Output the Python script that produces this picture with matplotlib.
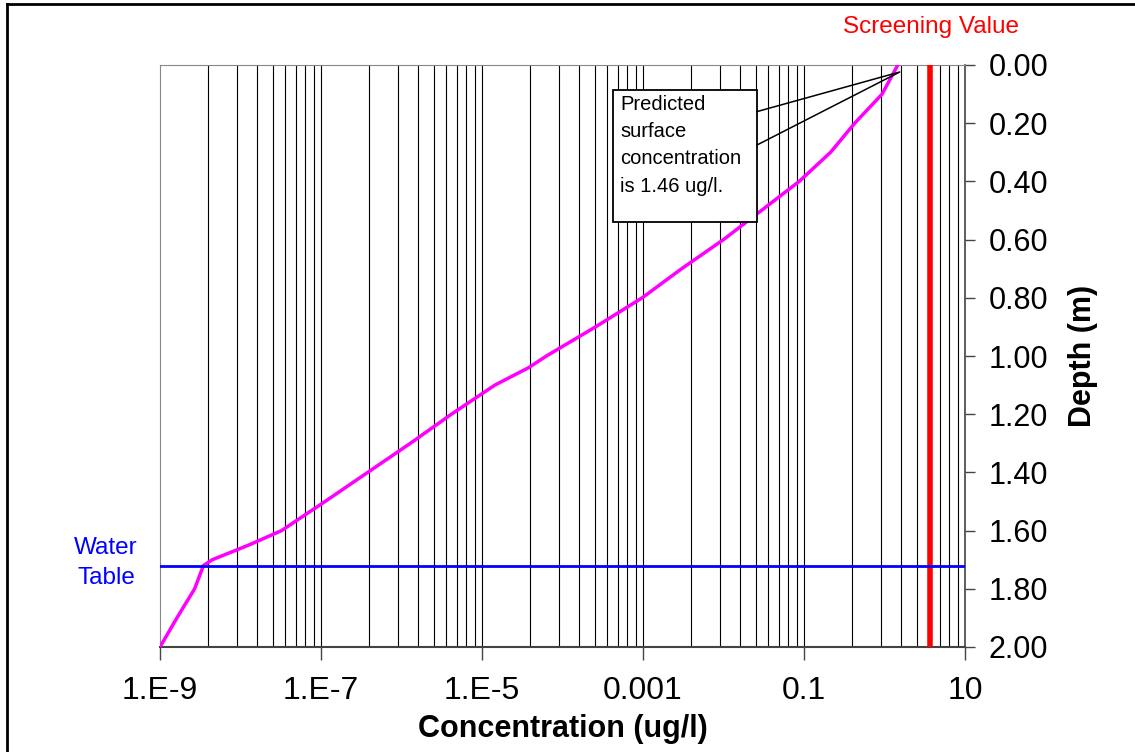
import numpy as np
import matplotlib
matplotlib.use("Agg")
import matplotlib.pyplot as plt
from matplotlib.lines import Line2D
from matplotlib.patches import Rectangle

plt.rcParams['font.family'] = ['Liberation Sans', 'DejaVu Sans']

# ---- data ----
depth = [0.00, 0.10, 0.20, 0.30, 0.40, 0.50, 0.60, 0.70, 0.80, 0.90, 1.00,
         1.04, 1.10, 1.20, 1.30, 1.40, 1.50, 1.60, 1.65, 1.70, 1.72, 1.80,
         1.90, 2.00]
log_conc = [0.165, -0.03, -0.37, -0.67, -1.06, -1.53, -2.00, -2.52, -3.01,
            -3.59, -4.20, -4.42, -4.84, -5.38, -5.89, -6.42, -6.95, -7.49,
            -7.90, -8.35, -8.46, -8.57, -8.79, -9.00]
conc = [10 ** v for v in log_conc]

screening_value = 3.67      # ug/l
water_table = 1.72          # m
surface_conc = 1.46         # ug/l

x_ticks = [1e-9, 1e-7, 1e-5, 1e-3, 0.1, 10]
x_labels = ["1.E-9", "1.E-7", "1.E-5", "0.001", "0.1", "10"]
y_ticks = [0.0, 0.2, 0.4, 0.6, 0.8, 1.0, 1.2, 1.4, 1.6, 1.8, 2.0]

# ---- figure ----
fig = plt.figure(figsize=(11.35, 7.52), dpi=100)
ax = fig.add_axes([160 / 1135, 1 - 647 / 752, 805 / 1135, 582 / 752])

ax.set_xscale('log')
ax.set_xlim(1e-9, 10)
ax.set_ylim(2.0, 0.0)

# Excel-style log gridlines (base 100 major unit, minor at m^2 steps)
for base in x_ticks[:-1]:
    for m in range(2, 11):
        ax.axvline(base * m ** 2, color='black', lw=0.8, zorder=1)

ax.plot(conc, depth, color='#ff00ff', lw=2.5, zorder=3)
ax.axvline(screening_value, color='red', lw=4, zorder=4)
ax.axhline(water_table, color='#0000ff', lw=2, zorder=4)

# axes styling
for side in ['top', 'left']:
    ax.spines[side].set_color('#888888')
ax.spines['bottom'].set_color('#444444')
ax.spines['right'].set_color('#444444')
ax.spines['bottom'].set_linewidth(1.5)
ax.spines['right'].set_linewidth(1.2)

ax.set_xticks(x_ticks)
ax.set_xticklabels(x_labels)
ax.xaxis.set_minor_locator(matplotlib.ticker.NullLocator())
ax.tick_params(axis='x', direction='out', length=9, width=1, color='#444444',
               labelsize=23, pad=12)

ax.yaxis.tick_right()
ax.yaxis.set_label_position('right')
ax.set_yticks(y_ticks)
ax.set_yticklabels([f"{v:.2f}" for v in y_ticks])
ax.tick_params(axis='y', direction='out', length=7, width=1, color='#444444',
               labelsize=22, pad=10)

ax.set_xlabel("Concentration (ug/l)", fontsize=22, fontweight='bold', labelpad=6)
ax.set_ylabel("Depth (m)", fontsize=22, fontweight='bold', labelpad=14)

# labels for reference lines
fig.text(931 / 1135, 1 - 27 / 752, "Screening Value", color='red', fontsize=17.5,
         ha='center', va='center')
fig.text(106 / 1135, 1 - 548 / 752, "Water", color='#0000ff', fontsize=17.5,
         ha='center', va='center')
fig.text(106 / 1135, 1 - 578 / 752, "Table", color='#0000ff', fontsize=17.5,
         ha='center', va='center')

# callout box
bx0, bx1 = (613 - 160) / 805, (757 - 160) / 805
by_top, by_bot = 1 - (90 - 65) / 582, 1 - (222 - 65) / 582
w1, w2 = 1 - (111.6 - 65) / 582, 1 - (145 - 65) / 582
tip = ax.transAxes.inverted().transform(
    ax.transData.transform((surface_conc * 1.06, 0.024)))
ax.add_patch(Rectangle((bx0, by_bot), bx1 - bx0, by_top - by_bot,
                       transform=ax.transAxes, facecolor='white',
                       edgecolor='black', lw=1.3, zorder=5))
ax.add_line(Line2D([bx1, tip[0], bx1], [w1, tip[1], w2], transform=ax.transAxes,
                   color='black', lw=1.1, zorder=5))
ax.text((620 - 160) / 805, 1 - (95 - 65) / 582,
        f"Predicted\nsurface\nconcentration\nis {surface_conc:.2f} ug/l.",
        transform=ax.transAxes, fontsize=14.5, va='top', ha='left',
        linespacing=1.55, zorder=6)

# outer chart border (top and left visible)
fig.add_artist(Line2D([6.5 / 1135, 1.0], [1 - 3.5 / 752, 1 - 3.5 / 752],
                      transform=fig.transFigure, color='black', lw=2))
fig.add_artist(Line2D([6.5 / 1135, 6.5 / 1135], [0.0, 1 - 3.5 / 752],
                      transform=fig.transFigure, color='black', lw=2))

fig.savefig("out.png", dpi=100)
